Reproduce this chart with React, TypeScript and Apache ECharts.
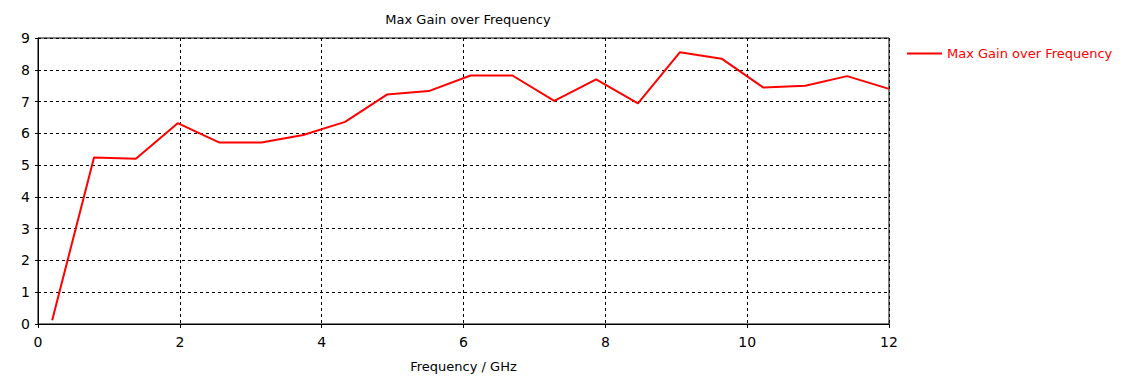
import React, { useEffect, useRef } from "react";
import * as echarts from "echarts";

const frequencies = [0.2, 0.79, 1.38, 1.97, 2.56, 3.15, 3.74, 4.33, 4.92, 5.51, 6.1, 6.69, 7.28, 7.87, 8.46, 9.05, 9.64, 10.23, 10.82, 11.41, 12];
const gains = [0.12, 5.24, 5.2, 6.32, 5.71, 5.71, 5.95, 6.36, 7.22, 7.33, 7.82, 7.82, 7.02, 7.7, 6.94, 8.55, 8.35, 7.44, 7.5, 7.8, 7.4];
const seriesName = "Max Gain over Frequency";
const titleText = "Max Gain over Frequency";
const xAxisName = "Frequency / GHz";

const FONT = "DejaVu Sans";

export default function App() {
  const ref = useRef<HTMLDivElement>(null);
  useEffect(() => {
    if (!ref.current) return;
    const chart = echarts.init(ref.current, null, { renderer: "svg" });
    chart.setOption({
      animation: false,
      backgroundColor: "#ffffff",
      title: {
        text: titleText,
        left: 463,
        textAlign: "center",
        top: 8,
        textStyle: { fontFamily: FONT, fontSize: 13, fontWeight: "normal", color: "#000" },
      },
      legend: {
        left: 902,
        top: 42,
        icon: "rect",
        itemWidth: 35,
        itemHeight: 2,
        itemGap: 5,
        textStyle: { fontFamily: FONT, fontSize: 13, color: "#ff0000" },
        data: [seriesName],
      },
      grid: {
        left: 38,
        right: 259,
        top: 38,
        bottom: 60,
        show: true,
        borderColor: "#000",
        borderWidth: 1,
        containLabel: false,
      },
      xAxis: {
        type: "value",
        min: 0,
        max: 12,
        interval: 2,
        name: xAxisName,
        nameLocation: "middle",
        nameGap: 36,
        nameTextStyle: { fontFamily: FONT, fontSize: 13, color: "#000" },
        axisLine: { show: true, lineStyle: { color: "#000", width: 1 } },
        axisTick: { show: true, length: 4, inside: false, lineStyle: { color: "#000" } },
        axisLabel: { fontFamily: FONT, fontSize: 14, color: "#000", margin: 11 },
        splitLine: { show: true, lineStyle: { color: "#000", type: [3, 3], width: 1 } },
      },
      yAxis: {
        type: "value",
        min: 0,
        max: 9,
        interval: 1,
        axisLine: { show: true, lineStyle: { color: "#000", width: 1 } },
        axisTick: { show: true, length: 3, lineStyle: { color: "#000" } },
        axisLabel: { fontFamily: FONT, fontSize: 14, color: "#000", margin: 8 },
        splitLine: { show: true, lineStyle: { color: "#000", type: [3, 3], width: 1 } },
      },
      series: [
        {
          name: seriesName,
          type: "line",
          data: frequencies.map((f, i) => [f, gains[i]]),
          showSymbol: false,
          symbol: "none",
          lineStyle: { color: "#ff0000", width: 2 },
          itemStyle: { color: "#ff0000" },
        },
      ],
    });
    return () => chart.dispose();
  }, []);
  return <div ref={ref} style={{ width: 1148, height: 384, position: "absolute", left: 0, top: 0 }} />;
}
